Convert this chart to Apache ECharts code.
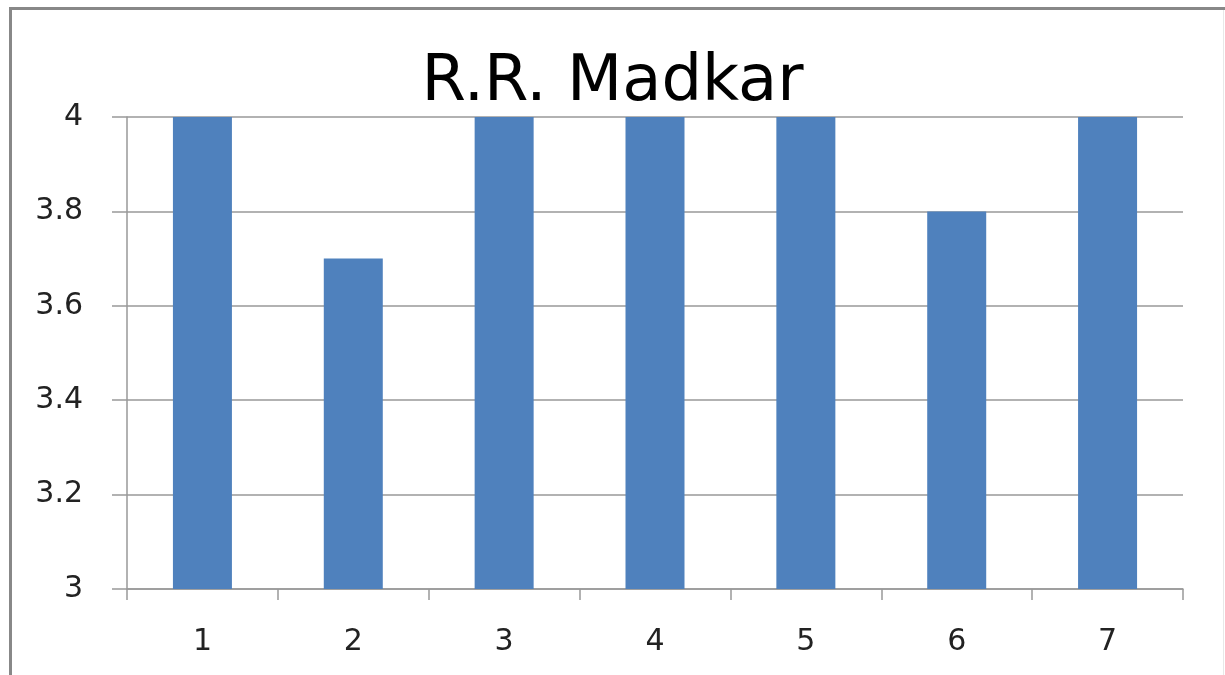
<!DOCTYPE html>
<html>
<head>
<meta charset="utf-8">
<script src="https://cdn.jsdelivr.net/npm/echarts@6/dist/echarts.min.js"></script>
<style>
  html, body { margin: 0; padding: 0; background: #fff; }
  #chart { width: 1225px; height: 675px; }
</style>
</head>
<body>
<div id="chart"></div>
<script>
const categories = ['1', '2', '3', '4', '5', '6', '7']
const values = [4, 3.7, 4, 4, 4, 3.8, 4]
const titleText = 'R.R. Madkar'

const chart = echarts.init(document.getElementById('chart'))

chart.setOption({
  backgroundColor: '#fff',
  animation: false,
  title: {
    text: titleText,
    left: 'center',
    top: 46,
    textStyle: {
      color: '#000',
      fontFamily: 'DejaVu Sans',
      fontSize: 64,
      fontWeight: 'normal'
    }
  },
  graphic: [
    { type: 'rect', shape: { x: 9, y: 7, width: 1216, height: 3 }, style: { fill: '#888' } },
    { type: 'rect', shape: { x: 9, y: 7, width: 3, height: 668 }, style: { fill: '#888' } },
    { type: 'rect', shape: { x: 1223, y: 10, width: 1, height: 665 }, style: { fill: '#e8e8e8' } }
  ],
  grid: {
    left: 127,
    right: 42,
    top: 117,
    bottom: 86
  },
  xAxis: {
    type: 'category',
    data: categories,
    axisLine: { lineStyle: { color: '#999', width: 1.5 } },
    axisTick: { show: true, length: 11, lineStyle: { color: '#999', width: 1.5 } },
    axisLabel: {
      color: '#222',
      fontFamily: 'DejaVu Sans',
      fontSize: 30,
      margin: 38
    }
  },
  yAxis: {
    type: 'value',
    min: 3,
    max: 4,
    interval: 0.2,
    axisLine: { show: true, lineStyle: { color: '#999', width: 1.5 } },
    axisTick: { show: true, length: 15, lineStyle: { color: '#999', width: 1.5 } },
    splitLine: { lineStyle: { color: '#999', width: 1.5 } },
    axisLabel: {
      color: '#222',
      fontFamily: 'DejaVu Sans',
      fontSize: 30,
      margin: 44
    }
  },
  series: [{
    type: 'bar',
    data: values,
    barWidth: 59,
    itemStyle: { color: '#4F81BD' }
  }]
})
</script>
</body>
</html>
